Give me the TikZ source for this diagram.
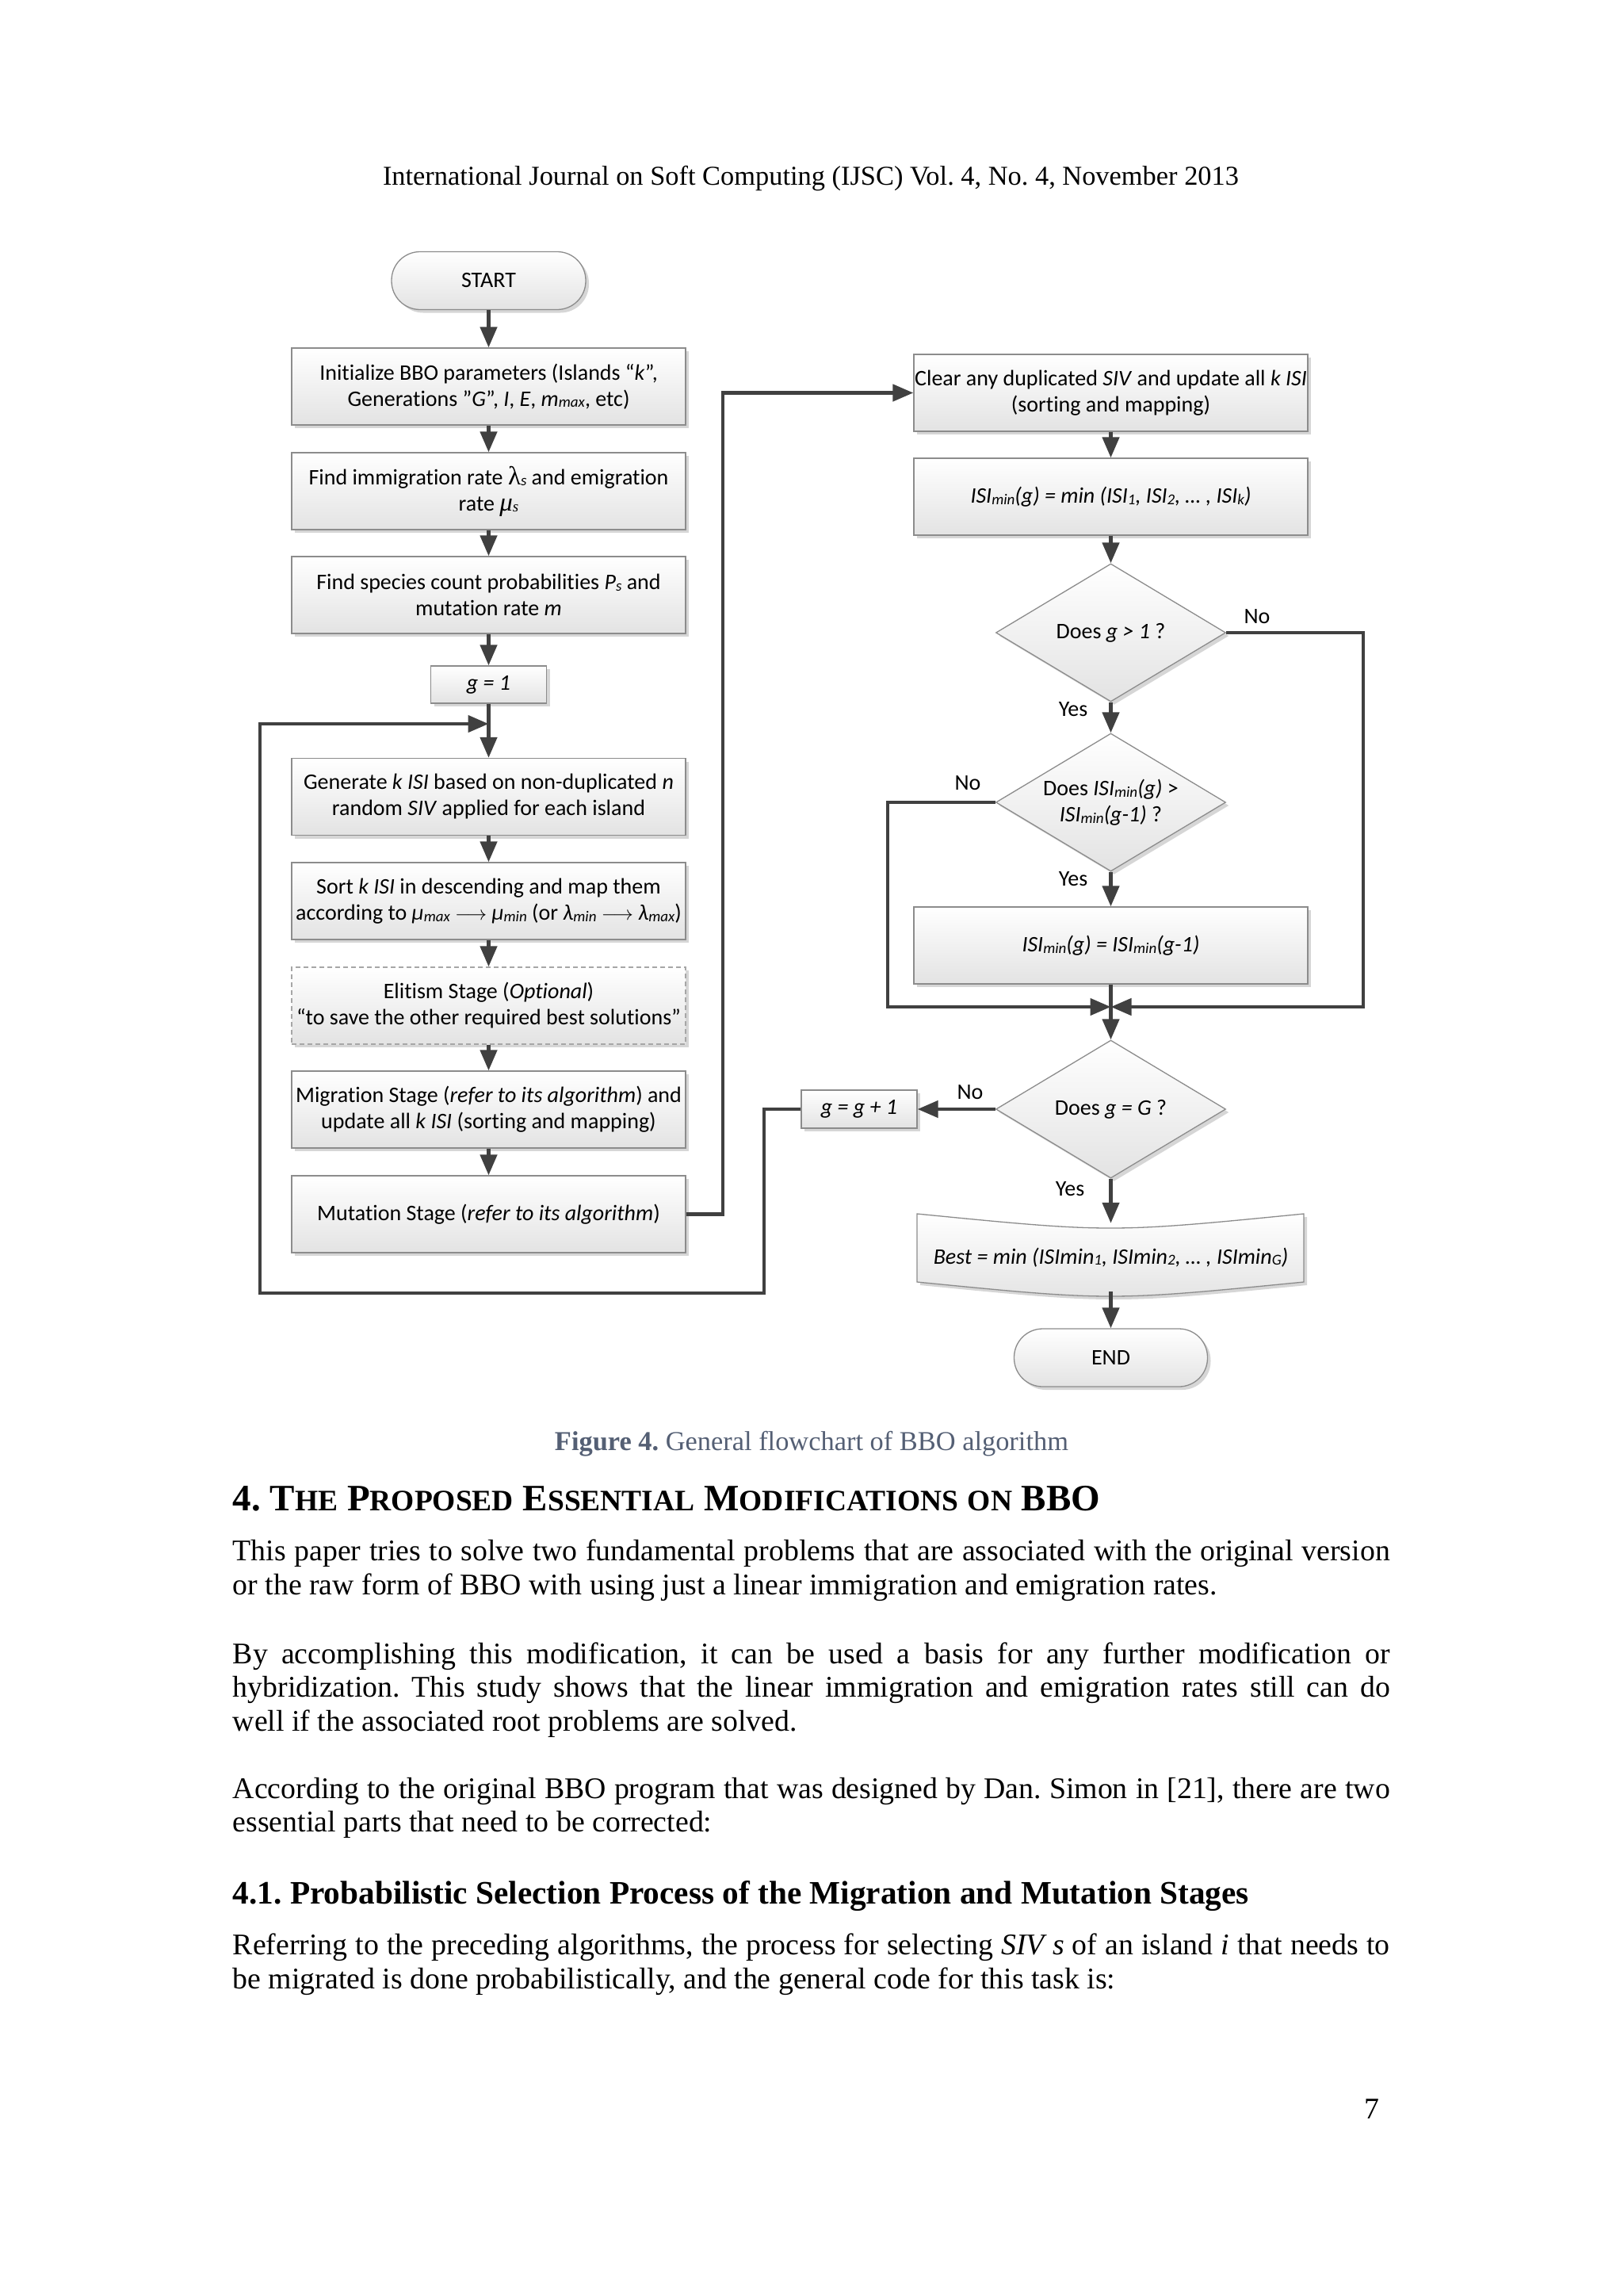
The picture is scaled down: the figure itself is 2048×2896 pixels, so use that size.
\documentclass[tikz,border=0pt]{standalone}
\usepackage{fontspec}
\setmainfont{Liberation Serif}
\newfontfamily\flowfont[Ligatures=NoCommon]{Carlito}
\usetikzlibrary{arrows.meta,shapes.geometric,shadows}
\newcommand\lo[1]{\raisebox{-0.06em}{\fontsize{19}{19}\selectfont #1}}
\newcommand\lam{{\rmfamily\fontsize{33}{33}\selectfont λ}}
\newcommand\mmu{{\rmfamily\itshape\fontsize{33}{33}\selectfont μ}}
\newcommand\SCx[1]{{\fontsize{37.5}{37.5}\selectfont #1}}
\definecolor{capcol}{RGB}{84,95,116}
\definecolor{arrcol}{RGB}{64,64,64}
\frenchspacing
\begin{document}
\begin{tikzpicture}[x=1pt,y=-1pt,
  flow/.style={font=\flowfont\fontsize{28}{33}\selectfont, align=center, text=black},
  box/.style={flow, rectangle, draw=black!45, line width=1.3pt, top color=white, bottom color=black!11,
     drop shadow={shadow xshift=4pt,shadow yshift=-4pt,fill=black!35,opacity=0.45}, inner sep=0pt},
  bigbox/.style={box, minimum width=497pt, minimum height=97pt},
  smallbox/.style={box, minimum width=146pt, minimum height=48pt},
  term/.style={box, rounded corners=36pt, minimum width=245pt, minimum height=73pt},
  dec/.style={diamond, draw=black!45, line width=1.3pt, top color=white, bottom color=black!11,
     drop shadow={shadow xshift=4pt,shadow yshift=-4pt,fill=black!35,opacity=0.45},
     minimum width=290pt, minimum height=174pt, inner sep=0pt},
  arr/.style={draw=arrcol, line width=4.5pt, -{Triangle[length=26pt,width=21pt]}},
  lbl/.style={flow},
  body/.style={font=\fontsize{37.8}{44}\selectfont, inner sep=0pt, anchor=base west},
]
\useasboundingbox (0,0) rectangle (2048,2896);
\fill[white] (0,0) rectangle (2048,2896);

% header
\node[font=\fontsize{34.4}{40}\selectfont, inner sep=0pt, anchor=base] (hdr) at (1023,233)
  {International Journal on Soft Computing (IJSC) Vol. 4, No. 4, November 2013};

% left column
\node[term] (start) at (616.5,354) {START};
\node[bigbox] (init) at (616.5,487.5) {Initialize BBO parameters (Islands “\textit{k}”,\\ Generations ”\textit{G}”, \textit{I}, \textit{E}, \textit{m}\lo{\textit{max}}, etc)};
\node[bigbox] (immig) at (616.5,619.5) {Find immigration rate \lam\lo{\textit{s}} and emigration\\ rate \mmu\lo{\rmfamily\itshape s}};
\node[bigbox] (species) at (616.5,750.5) {Find species count probabilities \textit{P}\lo{\textit{s}} and\\ mutation rate \textit{m}};
\node[smallbox, minimum height=47pt] (g1) at (616.5,863.5) {\textit{g = 1}};
\coordinate (j1) at (616.5,913);
\node[bigbox] (gen) at (616.5,1005) {Generate \textit{k ISI} based on non-duplicated \textit{n}\\ random \textit{SIV} applied for each island};
\node[bigbox] (sort) at (616.5,1136.5) {Sort \textit{k ISI} in descending and map them\\ according to \textit{μ\lo{max}} $\longrightarrow$\ \textit{μ\lo{min}} (or \textit{λ\lo{min}} $\longrightarrow$\ \textit{λ\lo{max}})};
\node[bigbox, dash pattern=on 6pt off 4pt, draw=black!35] (elit) at (616.5,1268.5) {Elitism Stage (\textit{Optional})\\ “to save the other required best solutions”};
\node[bigbox] (migr) at (616.5,1399.5) {Migration Stage (\textit{refer to its algorithm}) and\\ update all \textit{k ISI} (sorting and mapping)};
\node[bigbox] (mut) at (616.5,1531.5) {Mutation Stage (\textit{refer to its algorithm})};

% right column
\node[bigbox] (clear) at (1401.5,495.5) {Clear any duplicated \textit{SIV} and update all \textit{k ISI}\\ (sorting and mapping)};
\node[bigbox] (isimin) at (1401.5,626.5) {\textit{ISI\lo{min}(g) = min (ISI\lo{1}, ISI\lo{2}, … , ISI\lo{k})}};
\node[dec, label={[flow]center:Does \textit{g > 1} ?}] (d1) at (1401.5,798) {};
\node[dec, label={[flow]center:{Does \textit{ISI\lo{min}(g)} >\\ \textit{ISI\lo{min}(g-1)} ?}}] (d2) at (1401.5,1012) {};
\node[bigbox] (eq) at (1401.5,1192.5) {\textit{ISI\lo{min}(g) = ISI\lo{min}(g-1)}};
\coordinate (j2) at (1401.5,1270);
\node[dec, label={[flow]center:Does \textit{g = G} ?}] (d3) at (1401.5,1399) {};
\node[smallbox] (gg) at (1084,1399) {\textit{g = g + 1}};

% Best box (curved band)
\fill[black!35, opacity=0.45, xshift=4pt, yshift=-4pt]
  (1157,1531) .. controls (1401,1555) .. (1645,1531) -- (1645,1617) .. controls (1401,1641) .. (1157,1617) -- cycle;
\path[draw=black!45, line width=1.3pt, top color=white, bottom color=black!11]
  (1157,1531) .. controls (1401,1555) .. (1645,1531) -- (1645,1617) .. controls (1401,1641) .. (1157,1617) -- cycle;
\node[flow, minimum width=488pt, minimum height=86pt, inner sep=0pt] (best) at (1401.5,1586)
  {\textit{Best = min (ISImin\lo{1}, ISImin\lo{2}, … , ISImin\lo{G})}};
\node[term, minimum width=244pt] (end) at (1401.5,1712.5) {END};

% connectors left
\draw[arr] (start) -- (init);
\draw[arr] (init) -- (immig);
\draw[arr] (immig) -- (species);
\draw[arr] (species) -- (g1);
\draw[arr] (g1) -- (gen);
\draw[arr] (gen) -- (sort);
\draw[arr] (sort) -- (elit);
\draw[arr] (elit) -- (migr);
\draw[arr] (migr) -- (mut);
\coordinate (m1) at (912,1531.5);
\coordinate (m2) at (912,495.5);
\draw[arr] (mut.east) -- (m1) -- (m2) -- (clear.west);
% loop back
\coordinate (l1) at (964,1399);
\coordinate (l2) at (964,1631);
\coordinate (l3) at (328,1631);
\coordinate (l4) at (328,913);
\draw[arr] (gg.west) -- (l1) -- (l2) -- (l3) -- (l4) -- (j1);

% connectors right
\draw[arr] (clear) -- (isimin);
\draw[arr] (isimin) -- (d1.north);
\draw[arr] (d1.south) -- (d2.north);
\draw[arr] (d2.south) -- (eq.north);
\draw[arr] (eq.south) -- (d3.north);
\coordinate (n1) at (1720,798);
\coordinate (n2) at (1720,1270);
\draw[arr] (d1.east) -- (n1) -- (n2) -- (j2);
\coordinate (k1) at (1120,1012);
\coordinate (k2) at (1120,1270);
\draw[arr] (d2.west) -- (k1) -- (k2) -- (j2);
\draw[arr] (d3.west) -- (gg.east);
\draw[arr] (d3.south) -- (best.north);
\draw[arr] (best.south) -- (end.north);

% labels
\node[lbl] (no1) at (1586,778) {No};
\node[lbl] (yes1) at (1354,895) {Yes};
\node[lbl] (no2) at (1221,988) {No};
\node[lbl] (yes2) at (1354,1109) {Yes};
\node[lbl] (no3) at (1224,1378) {No};
\node[lbl] (yes3) at (1350,1500) {Yes};

% caption
\node[font=\fontsize{34.4}{40}\selectfont, text=capcol, inner sep=0pt, anchor=base] (cap) at (1024,1829)
  {\textbf{Figure 4.} General flowchart of BBO algorithm};

% section heading
\node[font=\bfseries\fontsize{47}{56}\selectfont, inner sep=0pt, anchor=base west] (h4) at (293.6,1905)
  {4. T\SCx{HE} P\SCx{ROPOSED} E\SCx{SSENTIAL} M\SCx{ODIFICATIONS} \SCx{ON} BBO};

% body text
\node[body] (p1a) at (293.6,1968.5) {\makebox[1460pt][s]{This paper tries to solve two fundamental problems that are associated with the original version}};
\node[body] (p1b) at (293.6,2011) {or the raw form of BBO with using just a linear immigration and emigration rates.};
\node[body] (p2a) at (293.6,2098) {\makebox[1460pt][s]{By accomplishing this modification, it can be used a basis for any further modification or}};
\node[body] (p2b) at (293.6,2140) {\makebox[1460pt][s]{hybridization. This study shows that the linear immigration and emigration rates still can do}};
\node[body] (p2c) at (293.6,2183) {well if the associated root problems are solved.};
\node[body] (p3a) at (293.6,2268) {\makebox[1460pt][s]{According to the original BBO program that was designed by Dan. Simon in [21], there are two}};
\node[body] (p3b) at (293.6,2310) {essential parts that need to be corrected:};
\node[font=\bfseries\fontsize{41.3}{48}\selectfont, inner sep=0pt, anchor=base west] (h41) at (293.6,2401)
  {4.1. Probabilistic Selection Process of the Migration and Mutation Stages};
\node[body] (p4a) at (293.6,2465) {\makebox[1460pt][s]{Referring to the preceding algorithms, the process for selecting \textit{SIV s} of an island \textit{i} that needs to}};
\node[body] (p4b) at (293.6,2508) {be migrated is done probabilistically, and the general code for this task is:};
\node[body, anchor=base east] (pg) at (1741,2672) {7};
\end{tikzpicture}
\end{document}
